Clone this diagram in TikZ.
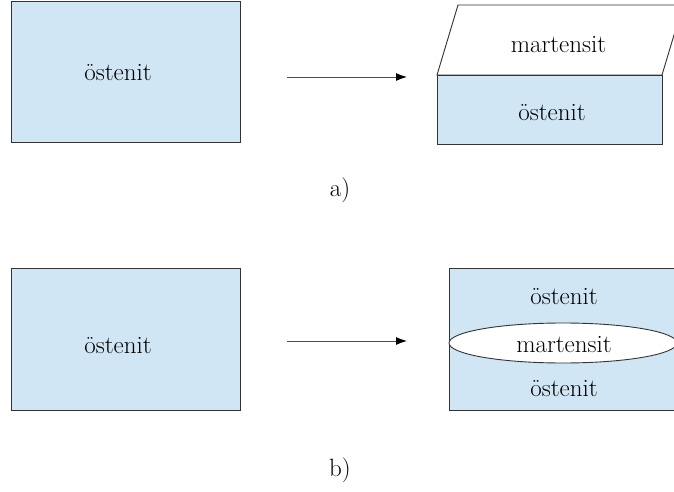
\documentclass[tikz,border=0pt]{standalone}
\usetikzlibrary{arrows.meta,shapes.geometric}
\definecolor{aust}{RGB}{208,230,244}
\begin{document}
\begin{tikzpicture}[x=1pt,y=-1pt,
  lbl/.style={font=\fontsize{25}{29}\selectfont, inner sep=0pt},
  box/.style={draw=black!80, line width=0.9pt, fill=aust},
  arr/.style={draw=black!70, line width=0.9pt, -{Latex[length=11pt,width=8pt,black]}}]
\useasboundingbox (0,0) rectangle (674,492);
\clip (0,0) rectangle (674,492);
% a) left
\draw[box] (11,1) rectangle (240,142);
\node[lbl] (a1) at (118,73) {östenit};
\coordinate (aS) at (287,77);
\coordinate (aE) at (407,77);
\draw[arr] (aS) -- (aE);
% a) right
\draw[line width=0.9pt, draw=black!80, fill=white] (437,75) -- (458,5) -- (683,5) -- (662,75) -- cycle;
\draw[box] (437,75) rectangle (662,144);
\node[lbl] (m1) at (558.5,45) {martensit};
\node[lbl] (a2) at (552,113) {östenit};
\node[lbl] (la) at (340,190) {a)};
% b) left
\draw[box] (11,268) rectangle (240,410);
\node[lbl] (b1) at (118,346) {östenit};
\coordinate (bS) at (287,341);
\coordinate (bE) at (407,341);
\draw[arr] (bS) -- (bE);
% b) right
\draw[box] (449,268) rectangle (700,410);
\draw[line width=0.9pt, draw=black!80, fill=white] (563,343) ellipse [x radius=114, y radius=20];
\node[lbl] (b2) at (564,297) {östenit};
\node[lbl] (m2) at (564,345) {martensit};
\node[lbl] (b3) at (564,389) {östenit};
\node[lbl] (lb) at (340,470) {b)};
\end{tikzpicture}
\end{document}
